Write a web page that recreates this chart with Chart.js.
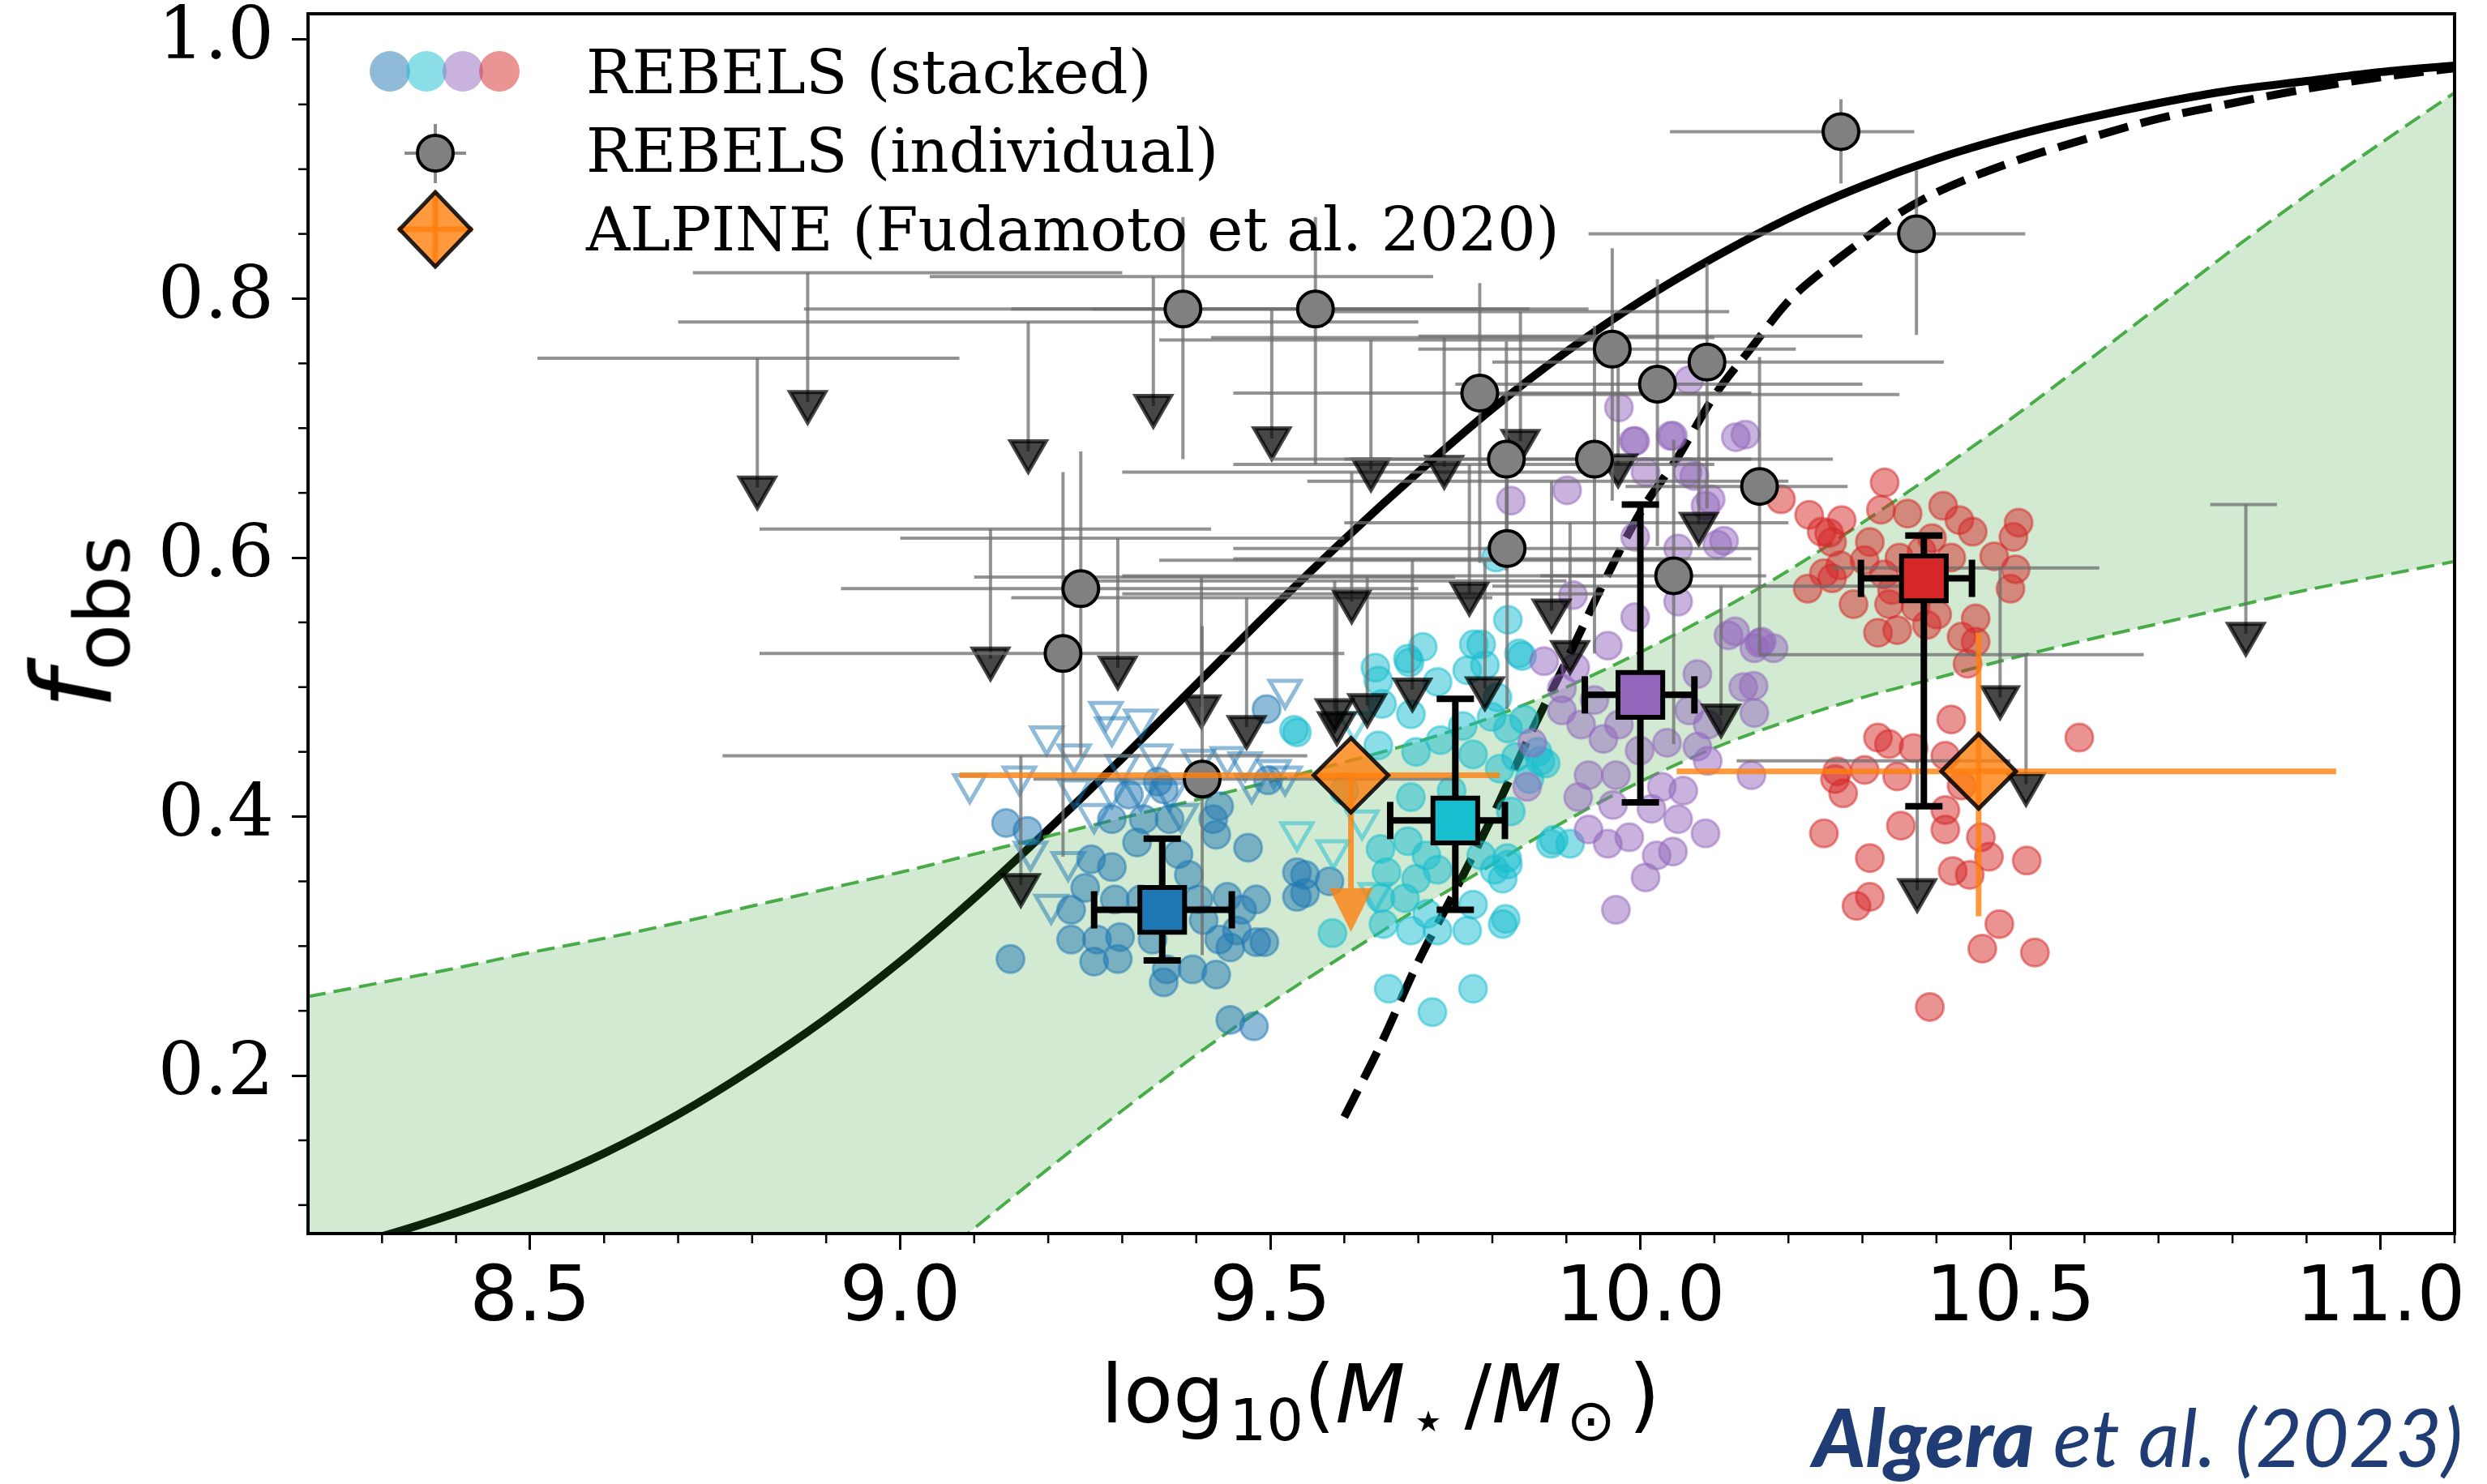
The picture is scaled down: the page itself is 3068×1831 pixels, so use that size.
<!DOCTYPE html>
<html>
<head>
<meta charset="utf-8">
<title>Obscured fraction versus stellar mass</title>
<script src="https://cdn.jsdelivr.net/npm/chart.js@4.4.1/dist/chart.umd.min.js"></script>
<style>
  html, body { margin: 0; padding: 0; background: #fff; }
  #wrap { position: relative; width: 3068px; height: 1831px; overflow: hidden; background: #fff; }
  #c { position: absolute; left: 0; top: 0; }
  .xtitle { position: absolute; left: 1703px; top: 1671px; transform: translateX(-50%);
            font-family: 'DejaVu Sans'; font-size: 100px; line-height: 1; white-space: nowrap; color: #000; }
  .xtitle sub { font-size: 72%; vertical-align: baseline; position: relative; top: 0.3em; line-height: 0; }
  .xtitle .s10 { margin-left: 6px; }
  .xtitle .sm { margin-left: 6px; }
  .xtitle .g1 { display: inline-block; width: 22px; }
  .xtitle .g2 { display: inline-block; width: 16px; }
  .ytitle { position: absolute; left: 90px; top: 768px; transform: translate(-50%, -50%) rotate(-90deg);
            font-family: 'DejaVu Sans'; font-size: 135px; line-height: 1; white-space: nowrap; color: #000; }
  .ytitle sub { font-size: 70%; vertical-align: baseline; position: relative; top: 0.24em; line-height: 0; }
  .credit { position: absolute; right: 30px; top: 1722px; font-family: Lato, 'Open Sans', sans-serif;
            font-style: italic; font-size: 99px; line-height: 1; color: #1f3c74; white-space: nowrap; }
  .credit b { font-weight: 900; }
</style>
</head>
<body>
<div id="wrap">
  <canvas id="c" width="3068" height="1831"></canvas>
  <div class="ytitle"><i>f</i><sub>obs</sub></div>
  <div class="xtitle">log<sub class="s10">10</sub>(<i>M</i><sub class="sm">⋆</sub><span class="g1"></span>/<i>M</i><sub class="sm">⊙</sub><span class="g2"></span>)</div>
  <div class="credit"><b>Algera</b> et al. (2023)</div>
</div>
<script>
// ---------- axis ranges and tick labels ----------
const massRange = [8.2, 11.1];
const fracRange = [0.078, 1.02];
const massTickStep = 0.5;
const fracTickStep = 0.2;

// ---------- model curves (log stellar mass grid) ----------
const curveMass = [8.2, 8.3, 8.4, 8.5, 8.6, 8.7, 8.8, 8.9, 9.0, 9.1, 9.2, 9.3, 9.4, 9.5, 9.6,
                   9.7, 9.8, 9.9, 10.0, 10.1, 10.2, 10.3, 10.4, 10.5, 10.6, 10.7, 10.8, 10.9, 11.0, 11.1];
const solidFrac = [0.062, 0.076, 0.094, 0.115, 0.140, 0.170, 0.205, 0.244, 0.288, 0.337, 0.390, 0.445,
                   0.502, 0.559, 0.614, 0.666, 0.715, 0.759, 0.798, 0.832, 0.862, 0.887, 0.908, 0.925,
                   0.939, 0.951, 0.961, 0.968, 0.975, 0.980];
const bandUpper = [0.261, 0.272, 0.283, 0.295, 0.306, 0.318, 0.331, 0.344, 0.357, 0.371, 0.385, 0.399,
                   0.413, 0.427, 0.442, 0.458, 0.477, 0.500, 0.527, 0.557, 0.590, 0.627, 0.666, 0.707,
                   0.750, 0.794, 0.838, 0.880, 0.920, 0.959];
const bandLower = [-0.330, -0.285, -0.240, -0.195, -0.150, -0.105, -0.060, -0.014, 0.034, 0.082, 0.128,
                   0.173, 0.216, 0.256, 0.293, 0.329, 0.363, 0.397, 0.427, 0.453, 0.474, 0.492, 0.507,
                   0.522, 0.536, 0.549, 0.562, 0.575, 0.586, 0.597];
const dashMass = [9.60, 9.65, 9.70, 9.75, 9.80, 9.85, 9.90, 9.95, 10.00, 10.05, 10.10, 10.15, 10.20,
                  10.25, 10.30, 10.35, 10.40, 10.50, 10.60, 10.70, 10.80, 10.90, 11.00, 11.10];
const dashFrac = [0.168, 0.225, 0.288, 0.343, 0.400, 0.462, 0.520, 0.580, 0.635, 0.677, 0.725, 0.762,
                  0.798, 0.823, 0.845, 0.866, 0.882, 0.905, 0.923, 0.939, 0.951, 0.962, 0.971, 0.978];

// ---------- REBELS stacked: bootstrap realisations per mass bin ----------
const blueMass = [9.143, 9.172, 9.149, 9.495, 9.497, 9.309, 9.348, 9.356, 9.329, 9.286, 9.364, 9.423, 9.431,
                  9.427, 9.470, 9.258, 9.286, 9.376, 9.290, 9.325, 9.403, 9.442, 9.481, 9.231, 9.462, 9.231,
                  9.266, 9.297, 9.341, 9.431, 9.446, 9.481, 9.262, 9.294, 9.360, 9.356, 9.395, 9.427, 9.446,
                  9.478, 9.536, 9.536, 9.455, 9.547, 9.547, 9.580, 9.492, 9.320, 9.390, 9.250, 9.410];
const blueFrac = [0.395, 0.389, 0.290, 0.483, 0.428, 0.417, 0.427, 0.421, 0.398, 0.398, 0.398, 0.398, 0.408,
                  0.386, 0.376, 0.367, 0.361, 0.371, 0.336, 0.336, 0.336, 0.338, 0.336, 0.328, 0.328, 0.305,
                  0.305, 0.307, 0.305, 0.305, 0.299, 0.303, 0.288, 0.290, 0.282, 0.272, 0.282, 0.278, 0.243,
                  0.238, 0.357, 0.338, 0.312, 0.341, 0.355, 0.350, 0.303, 0.380, 0.355, 0.345, 0.320];
const cyanMass = [9.706, 9.686, 9.785, 9.836, 9.821, 9.646, 9.726, 9.766, 9.690, 9.646, 9.697, 9.730, 9.774,
                  9.799, 9.821, 9.843, 9.861, 9.872, 9.810, 9.825, 9.690, 9.649, 9.686, 9.711, 9.657, 9.697,
                  9.726, 9.785, 9.803, 9.821, 9.814, 9.879, 9.649, 9.682, 9.712, 9.774, 9.653, 9.690, 9.726,
                  9.766, 9.814, 9.584, 9.660, 9.774, 9.719, 9.536, 9.775, 9.642, 9.688, 9.790, 9.651, 9.807,
                  9.840, 9.832, 9.865, 9.850, 9.883, 9.905, 9.820, 9.818, 9.532, 9.600, 9.745, 9.760, 9.805];
const cyanFrac = [0.531, 0.522, 0.533, 0.526, 0.552, 0.505, 0.504, 0.513, 0.479, 0.455, 0.450, 0.459, 0.448,
                  0.477, 0.468, 0.475, 0.450, 0.441, 0.437, 0.404, 0.415, 0.375, 0.381, 0.370, 0.357, 0.352,
                  0.359, 0.370, 0.359, 0.363, 0.352, 0.379, 0.337, 0.337, 0.325, 0.332, 0.317, 0.312, 0.312,
                  0.312, 0.317, 0.310, 0.267, 0.267, 0.249, 0.465, 0.533, 0.515, 0.519, 0.517, 0.487, 0.492,
                  0.524, 0.446, 0.443, 0.429, 0.382, 0.379, 0.368, 0.321, 0.467, 0.420, 0.420, 0.470, 0.600];
const purpleMass = [9.971, 9.993, 10.044, 10.066, 10.142, 10.073, 9.901, 9.825, 10.007, 10.095, 10.113, 9.993,
                    10.051, 9.909, 10.051, 9.993, 10.128, 10.164, 10.077, 10.153, 9.956, 9.912, 9.894, 9.938,
                    9.894, 9.920, 9.971, 10.066, 10.091, 10.036, 10.077, 10.091, 9.999, 10.150, 9.930, 9.967,
                    10.029, 10.058, 9.916, 9.963, 10.015, 10.051, 10.088, 9.930, 9.956, 9.985, 10.022, 10.044,
                    10.007, 9.967, 9.854, 9.847, 9.991, 10.041, 10.129, 10.064, 10.104, 10.088, 10.139, 10.119,
                    10.154, 10.180, 10.161, 10.154, 9.870, 9.950, 10.010];
const purpleFrac = [0.716, 0.690, 0.694, 0.737, 0.695, 0.663, 0.652, 0.644, 0.666, 0.645, 0.613, 0.616,
                    0.607, 0.571, 0.566, 0.554, 0.543, 0.535, 0.510, 0.501, 0.532, 0.515, 0.499, 0.490,
                    0.482, 0.471, 0.471, 0.482, 0.471, 0.457, 0.454, 0.443, 0.451, 0.432, 0.432, 0.432,
                    0.423, 0.420, 0.415, 0.409, 0.406, 0.398, 0.387, 0.390, 0.379, 0.384, 0.370, 0.373,
                    0.353, 0.328, 0.457, 0.423, 0.690, 0.694, 0.693, 0.666, 0.610, 0.640, 0.500, 0.540,
                    0.530, 0.530, 0.534, 0.480, 0.520, 0.460, 0.500];
const redMass = [10.330, 10.190, 10.228, 10.272, 10.245, 10.259, 10.325, 10.361, 10.409, 10.431, 10.449, 10.511,
                 10.504, 10.310, 10.394, 10.478, 10.507, 10.270, 10.303, 10.329, 10.226, 10.259, 10.288, 10.336,
                 10.372, 10.401, 10.453, 10.500, 10.321, 10.347, 10.387, 10.434, 10.453, 10.442, 10.420, 10.321,
                 10.336, 10.369, 10.266, 10.303, 10.347, 10.412, 10.434, 10.274, 10.412, 10.412, 10.460, 10.471,
                 10.522, 10.352, 10.248, 10.310, 10.422, 10.445, 10.310, 10.292, 10.485, 10.462, 10.533, 10.391,
                 10.593, 10.255, 10.248, 10.263, 10.350, 10.420, 10.380, 10.340];
const redFrac = [0.658, 0.645, 0.633, 0.629, 0.620, 0.612, 0.637, 0.634, 0.640, 0.629, 0.620, 0.627,
                 0.616, 0.612, 0.615, 0.601, 0.591, 0.594, 0.598, 0.587, 0.576, 0.584, 0.564, 0.564,
                 0.562, 0.556, 0.553, 0.576, 0.542, 0.544, 0.548, 0.539, 0.535, 0.518, 0.475, 0.461,
                 0.456, 0.453, 0.435, 0.436, 0.431, 0.447, 0.424, 0.418, 0.405, 0.390, 0.384, 0.369,
                 0.366, 0.393, 0.387, 0.368, 0.358, 0.355, 0.338, 0.331, 0.317, 0.298, 0.295, 0.253,
                 0.461, 0.619, 0.588, 0.429, 0.600, 0.600, 0.605, 0.575];
// bootstrap realisations that only give upper limits
const blueOpenMass = [9.094, 9.161, 9.198, 9.235, 9.278, 9.286, 9.325, 9.345, 9.235, 9.286, 9.325, 9.364, 9.403,
                      9.442, 9.466, 9.520, 9.505, 9.520, 9.262, 9.380, 9.176, 9.227, 9.204, 9.475, 9.300];
const blueOpenFrac = [0.425, 0.431, 0.462, 0.448, 0.481, 0.469, 0.475, 0.448, 0.421, 0.421, 0.419, 0.419, 0.444,
                      0.446, 0.442, 0.498, 0.436, 0.431, 0.402, 0.402, 0.373, 0.365, 0.332, 0.425, 0.440];
const cyanOpenMass = [9.536, 9.585, 9.624, 9.642, 9.613];
const cyanOpenFrac = [0.388, 0.374, 0.397, 0.341, 0.473];

// ---------- REBELS stacked means ----------
const stackMass = [9.354, 9.750, 10.000, 10.383];
const stackFrac = [0.328, 0.397, 0.494, 0.584];
const stackMassLo = [9.262, 9.662, 9.925, 10.298];
const stackMassHi = [9.448, 9.817, 10.073, 10.448];
const stackFracLo = [0.289, 0.328, 0.411, 0.408];
const stackFracHi = [0.383, 0.491, 0.641, 0.617];
const stackColors = ['#1f77b4', '#17becf', '#9467bd', '#d62728'];

// ---------- REBELS individual detections ----------
const indMass = [10.271, 10.373, 9.382, 9.561, 9.783, 9.962, 10.023, 10.090, 9.819, 9.938, 9.820, 10.161,
                 10.045, 9.244, 9.220, 9.408];
const indFrac = [0.929, 0.850, 0.792, 0.792, 0.727, 0.761, 0.734, 0.751, 0.676, 0.676, 0.607, 0.655,
                 0.586, 0.576, 0.526, 0.429];
const indMassLo = [10.04, 9.93, 8.87, 9.26, 9.45, 9.70, 9.75, 9.80, 9.50, 9.60, 9.45, 9.98, 9.865, 8.92, 8.81, 9.18];
const indMassHi = [10.37, 10.52, 9.78, 9.93, 10.15, 10.21, 10.30, 10.41, 10.15, 10.26, 10.16, 10.28, 10.17, 9.70, 9.60, 9.75];
const indFracLo = [0.889, 0.772, 0.676, 0.672, 0.596, 0.644, 0.609, 0.638, 0.590, 0.526, 0.483, 0.526,
                   0.456, 0.447, 0.369, 0.293];
const indFracHi = [0.954, 0.899, 0.863, 0.863, 0.812, 0.839, 0.815, 0.827, 0.767, 0.779, 0.690, 0.755,
                   0.691, 0.682, 0.666, 0.547];

// ---------- REBELS individual upper limits ----------
const limMass = [8.807, 8.875, 9.173, 9.342, 9.502, 9.636, 9.735, 9.838, 9.970, 10.079, 9.610, 9.769, 9.880,
                 9.905, 9.692, 9.790, 9.631, 10.109, 9.587, 9.590, 9.468, 9.407, 9.294, 9.122, 9.163, 10.374,
                 10.486, 10.521, 10.818];
const limFrac = [0.754, 0.820, 0.782, 0.817, 0.792, 0.768, 0.770, 0.790, 0.771, 0.726, 0.666, 0.672, 0.659,
                 0.627, 0.598, 0.599, 0.586, 0.578, 0.582, 0.572, 0.569, 0.585, 0.615, 0.622, 0.447, 0.443,
                 0.592, 0.525, 0.641];
const limMassLo = [8.51, 8.72, 8.70, 9.04, 9.15, 9.35, 9.42, 9.56, 9.70, 9.80, 9.30, 9.45, 9.55, 9.60, 9.35,
                   9.45, 9.30, 9.80, 9.25, 9.30, 9.15, 9.10, 9.00, 8.81, 8.76, 10.13, 10.26, 10.16, 10.77];
const limMassHi = [9.08, 9.30, 9.70, 9.72, 9.85, 9.98, 10.10, 10.12, 10.30, 10.35, 9.95, 10.10, 10.20, 10.20,
                   10.05, 10.15, 9.95, 10.40, 9.90, 9.95, 9.80, 9.75, 9.60, 9.42, 9.55, 10.50, 10.62, 10.68, 10.86];
const ARROW = 0.1;   // length of the upper-limit arrows in f_obs

// ---------- ALPINE (Fudamoto et al. 2020) ----------
const alpMass = [9.609, 10.457];
const alpFrac = [0.432, 0.435];
const alpMassLo = [9.08, 10.049];
const alpMassHi = [9.81, 10.94];
const alpFracLo = [null, 0.323];
const alpFracHi = [null, 0.542];
const alpArrowTip = [0.311, null];

const legendLabels = ['REBELS (stacked)', 'REBELS (individual)', 'ALPINE (Fudamoto et al. 2020)'];

// ---------- helpers ----------
const pts = (xs, ys) => xs.map((v, i) => ({ x: v, y: ys[i] }));
const rgba = (hex, a) => {
  const n = parseInt(hex.slice(1), 16);
  return `rgba(${n >> 16},${(n >> 8) & 255},${n & 255},${a})`;
};
const limTip = limFrac.map(v => v - ARROW);

// error bars, limit arrows and caps, drawn just beneath the markers of their dataset
const errorBars = {
  id: 'errorBars',
  beforeDatasetDraw(chart, args) {
    const ds = chart.data.datasets[args.index];
    const b = ds.bars;
    if (!b) return;
    const { ctx, chartArea: a, scales } = chart;
    const X = v => scales.x.getPixelForValue(v);
    const Y = v => scales.y.getPixelForValue(v);
    ctx.save();
    ctx.beginPath();
    ctx.rect(a.left, a.top, a.right - a.left, a.bottom - a.top);
    ctx.clip();
    ctx.strokeStyle = b.color;
    ctx.fillStyle = b.color;
    ctx.lineWidth = b.width;
    ctx.lineCap = 'butt';
    const seg = (x1, y1, x2, y2) => { ctx.beginPath(); ctx.moveTo(x1, y1); ctx.lineTo(x2, y2); ctx.stroke(); };
    ds.data.forEach((p, i) => {
      const vx = X(p.x);
      const hy = Y(b.hY ? b.hY[i] : p.y);
      if (b.xLo && b.xLo[i] != null) {
        const x1 = X(b.xLo[i]), x2 = X(b.xHi[i]);
        seg(x1, hy, x2, hy);
        if (b.cap) { seg(x1, hy - b.cap, x1, hy + b.cap); seg(x2, hy - b.cap, x2, hy + b.cap); }
      }
      if (b.yLo && b.yLo[i] != null && b.yHi[i] != null) {
        const y1 = Y(b.yLo[i]), y2 = Y(b.yHi[i]);
        seg(vx, y1, vx, y2);
        if (b.cap) { seg(vx - b.cap, y1, vx + b.cap, y1); seg(vx - b.cap, y2, vx + b.cap, y2); }
      }
      if (b.arrowTo && b.arrowTo[i] != null) {
        const tip = Y(b.arrowTo[i]);
        const h = b.head;
        seg(vx, Y(p.y), vx, tip - h);
        ctx.beginPath();
        ctx.moveTo(vx - h / 2, tip - h);
        ctx.lineTo(vx + h / 2, tip - h);
        ctx.lineTo(vx, tip);
        ctx.closePath();
        ctx.fill();
      }
    });
    ctx.restore();
  }
};

// minor ticks and the four spines
const frame = {
  id: 'frame',
  afterDatasetsDraw(chart) {
    const { ctx, chartArea: a, scales: { x, y } } = chart;
    ctx.save();
    ctx.strokeStyle = '#000';
    ctx.lineWidth = 2.5;
    const seg = (x1, y1, x2, y2) => { ctx.beginPath(); ctx.moveTo(x1, y1); ctx.lineTo(x2, y2); ctx.stroke(); };
    for (let k = Math.ceil(massRange[0] * 10 + 1e-6); k <= Math.round(massRange[1] * 10); k++) {
      if (k % 5 === 0) continue;
      const px = x.getPixelForValue(k / 10);
      seg(px, a.bottom, px, a.bottom + 12);
    }
    for (let k = Math.ceil(fracRange[0] * 20); k <= Math.floor(fracRange[1] * 20); k++) {
      if (k % 4 === 0) continue;
      const py = y.getPixelForValue(k / 20);
      seg(a.left - 12, py, a.left, py);
    }
    ctx.lineWidth = 4;
    ctx.strokeRect(a.left, a.top, a.right - a.left, a.bottom - a.top);
    ctx.restore();
  }
};

// legend block in the upper-left corner of the axes
const legendBlock = {
  id: 'legendBlock',
  afterDraw(chart) {
    const { ctx, chartArea: a } = chart;
    const x0 = a.left, y0 = a.top;
    ctx.save();
    stackColors.forEach((c, i) => {
      ctx.beginPath();
      ctx.arc(x0 + 101 + i * 45, y0 + 71, 25, 0, Math.PI * 2);
      ctx.fillStyle = rgba(c, 0.5);
      ctx.fill();
    });
    // individual: grey disc with small error bars
    const gx = x0 + 157, gy = y0 + 172;
    ctx.strokeStyle = 'rgba(110,110,110,0.8)';
    ctx.lineWidth = 4;
    ctx.beginPath(); ctx.moveTo(gx, gy - 36); ctx.lineTo(gx, gy + 37); ctx.stroke();
    ctx.beginPath(); ctx.moveTo(gx - 38, gy); ctx.lineTo(gx + 38, gy); ctx.stroke();
    ctx.beginPath(); ctx.arc(gx, gy, 22, 0, Math.PI * 2);
    ctx.fillStyle = '#808080'; ctx.fill();
    ctx.strokeStyle = '#000'; ctx.lineWidth = 4; ctx.stroke();
    // ALPINE: orange diamond with error cross
    const dx = x0 + 157, dy = y0 + 266;
    ctx.strokeStyle = 'rgba(255,127,14,0.8)';
    ctx.lineWidth = 7;
    ctx.beginPath(); ctx.moveTo(dx, dy - 46); ctx.lineTo(dx, dy + 46); ctx.stroke();
    ctx.beginPath(); ctx.moveTo(dx - 46, dy); ctx.lineTo(dx + 46, dy); ctx.stroke();
    ctx.beginPath();
    ctx.moveTo(dx - 44, dy); ctx.lineTo(dx, dy - 46); ctx.lineTo(dx + 44, dy); ctx.lineTo(dx, dy + 46); ctx.closePath();
    ctx.fillStyle = 'rgba(255,127,14,0.8)'; ctx.fill();
    ctx.strokeStyle = 'rgba(0,0,0,0.85)'; ctx.lineWidth = 5; ctx.stroke();
    // labels
    ctx.font = '75px "DejaVu Serif"';
    ctx.fillStyle = '#000';
    ctx.textBaseline = 'alphabetic';
    legendLabels.forEach((t, i) => ctx.fillText(t, x0 + 343, y0 + 98 + i * 97));
    ctx.restore();
  }
};

const cloud = (label, xs, ys, color, order) => ({
  label, data: pts(xs, ys), order,
  pointStyle: 'circle', pointRadius: 17, borderWidth: 3,
  backgroundColor: rgba(color, 0.5), borderColor: rgba(color, 0.5)
});
const openTri = (label, xs, ys, color, order) => ({
  label, data: pts(xs, ys), order,
  pointStyle: 'triangle', rotation: 180, pointRadius: 22, borderWidth: 5,
  backgroundColor: 'rgba(0,0,0,0)', borderColor: rgba(color, 0.5)
});
// scales keep the exact axes box: no automatic padding from tick labels
const noPad = s => { s.paddingTop = 0; s.paddingBottom = 0; s.paddingLeft = 0; s.paddingRight = 0; };

Chart.defaults.font.family = 'DejaVu Sans';

new Chart(document.getElementById('c'), {
  type: 'scatter',
  data: {
    datasets: [
      { type: 'line', label: 'solid relation', data: pts(curveMass, solidFrac), order: 100,
        borderColor: '#000', borderWidth: 10, pointRadius: 0, cubicInterpolationMode: 'monotone', fill: false, clip: 0 },
      { type: 'line', label: 'dashed relation', data: pts(dashMass, dashFrac), order: 99,
        borderColor: '#000', borderWidth: 10, borderDash: [37, 16], pointRadius: 0,
        cubicInterpolationMode: 'monotone', fill: false, clip: 0 },
      { type: 'line', label: 'band upper', data: pts(curveMass, bandUpper), order: 96,
        borderColor: 'rgba(44,160,44,0.85)', borderWidth: 4, borderDash: [22, 10], pointRadius: 0,
        cubicInterpolationMode: 'monotone', fill: false, clip: 0 },
      { type: 'line', label: 'band lower', data: pts(curveMass, bandLower), order: 97,
        borderColor: 'rgba(44,160,44,0.85)', borderWidth: 4, borderDash: [22, 10], pointRadius: 0,
        cubicInterpolationMode: 'monotone', fill: '-1', backgroundColor: 'rgba(44,160,44,0.22)', clip: 0 },
      cloud('bin 1', blueMass, blueFrac, stackColors[0], 90),
      cloud('bin 2', cyanMass, cyanFrac, stackColors[1], 89),
      cloud('bin 3', purpleMass, purpleFrac, stackColors[2], 88),
      cloud('bin 4', redMass, redFrac, stackColors[3], 87),
      openTri('bin 1 limits', blueOpenMass, blueOpenFrac, stackColors[0], 86),
      openTri('bin 2 limits', cyanOpenMass, cyanOpenFrac, stackColors[1], 85),
      { label: 'REBELS individual limits', data: pts(limMass, limTip), order: 80,
        pointStyle: 'triangle', rotation: 180, pointRadius: 25, borderWidth: 5,
        backgroundColor: 'rgba(0,0,0,0.72)', borderColor: 'rgba(0,0,0,0.72)',
        bars: { color: 'rgba(110,110,110,0.75)', width: 4, xLo: limMassLo, xHi: limMassHi, hY: limFrac,
                yLo: limTip, yHi: limFrac } },
      { label: 'REBELS (individual)', data: pts(indMass, indFrac), order: 79,
        pointStyle: 'circle', pointRadius: 22, borderWidth: 4,
        backgroundColor: '#808080', borderColor: '#000',
        bars: { color: 'rgba(110,110,110,0.75)', width: 4, xLo: indMassLo, xHi: indMassHi,
                yLo: indFracLo, yHi: indFracHi } },
      { label: 'ALPINE (Fudamoto et al. 2020)', data: pts(alpMass, alpFrac), order: 70,
        pointStyle: 'rectRot', pointRadius: 46, borderWidth: 5,
        backgroundColor: 'rgba(255,127,14,0.8)', borderColor: 'rgba(0,0,0,0.85)',
        bars: { color: 'rgba(255,127,14,0.8)', width: 7, xLo: alpMassLo, xHi: alpMassHi,
                yLo: alpFracLo, yHi: alpFracHi, arrowTo: alpArrowTip, head: 54 } },
      { label: 'REBELS (stacked)', data: pts(stackMass, stackFrac), order: 60,
        pointStyle: 'rect', pointRadius: 39, borderWidth: 6,
        backgroundColor: stackColors, borderColor: '#000',
        bars: { color: '#000', width: 8, cap: 23, xLo: stackMassLo, xHi: stackMassHi,
                yLo: stackFracLo, yHi: stackFracHi } }
    ]
  },
  options: {
    responsive: false,
    devicePixelRatio: 1,
    animation: false,
    events: [],
    layout: { autoPadding: false, padding: { top: 17, right: 40, left: 0, bottom: 0 } },
    plugins: { legend: { display: false }, tooltip: { enabled: false } },
    scales: {
      x: {
        type: 'linear', min: massRange[0], max: massRange[1],
        ticks: { stepSize: massTickStep, includeBounds: false, autoSkip: false, maxRotation: 0,
                 callback: v => v.toFixed(1), color: '#000', padding: 6,
                 font: { family: 'DejaVu Sans', size: 94 } },
        grid: { drawOnChartArea: false, drawTicks: true, tickLength: 20, tickWidth: 3, tickColor: '#000' },
        border: { display: false },
        afterFit: s => { s.height = 309; noPad(s); }
      },
      y: {
        type: 'linear', min: fracRange[0], max: fracRange[1],
        ticks: { stepSize: fracTickStep, includeBounds: false, autoSkip: false,
                 callback: v => v.toFixed(1), color: '#000', padding: 22,
                 font: { family: 'DejaVu Serif', size: 90 } },
        grid: { drawOnChartArea: false, drawTicks: true, tickLength: 20, tickWidth: 3, tickColor: '#000' },
        border: { display: false },
        afterFit: s => { s.width = 380; noPad(s); }
      }
    }
  },
  plugins: [errorBars, frame, legendBlock]
});
</script>
</body>
</html>
